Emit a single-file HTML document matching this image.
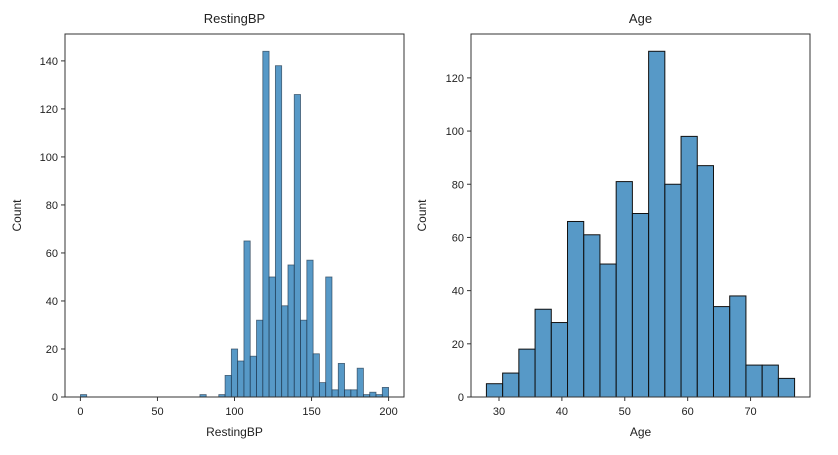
<!DOCTYPE html>
<html><head><meta charset="utf-8"><style>
body{margin:0;background:#fff;}
svg{display:block;font-family:"Liberation Sans","DejaVu Sans",sans-serif;}
</style></head><body>
<svg id="chart" width="838" height="455"></svg>
<script>
const bpCounts = [1,0,0,0,0,0,0,0,0,0,0,0,0,0,0,0,0,0,0,1,0,0,1,9,20,15,65,17,32,144,50,138,38,55,126,32,57,18,6,50,3,14,3,3,12,1,2,1,4];
const bpRange = [0,200];
const bpTicks = [0,50,100,150,200];
const bpYTicks = [0,20,40,60,80,100,120,140];
const ageCounts = [5,9,18,33,28,66,61,50,81,69,130,80,98,87,34,38,12,12,7];
const ageRange = [28,77];
const ageTicks = [30,40,50,60,70];
const ageYTicks = [0,20,40,60,80,100,120];

const NS="http://www.w3.org/2000/svg";
const svg=document.getElementById('chart');
function mk(tag,attrs,parent){const e=document.createElementNS(NS,tag);for(const k in attrs)e.setAttribute(k,attrs[k]);(parent||svg).appendChild(e);return e;}

function panel(cfg){
  const g=mk('g',{});
  
  
  const {x0,x1,y0,y1}=cfg.box;
  const bw=(cfg.range[1]-cfg.range[0])/cfg.counts.length;
  const xmin=cfg.range[0]-(cfg.range[1]-cfg.range[0])*0.05, xmax=cfg.range[1]+(cfg.range[1]-cfg.range[0])*0.05;
  const ymax=Math.max(...cfg.counts)*1.05;
  const sx=v=>x0+(v-xmin)/(xmax-xmin)*(x1-x0);
  const sy=v=>y1-v/ymax*(y1-y0);
  cfg.counts.forEach((c,i)=>{
    if(c<=0)return;
    const a=cfg.range[0]+i*bw;
    const r=mk('rect',{x:sx(a),y:sy(c),width:sx(a+bw)-sx(a),height:sy(0)-sy(c),fill:'rgba(31,119,180,0.75)',stroke:cfg.edge,'stroke-width':cfg.ew},g);
    
    
  });
  const f=mk('rect',{x:x0,y:y0,width:x1-x0,height:y1-y0,fill:'none',stroke:'#333','stroke-width':1},g);
  
  
  cfg.xticks.forEach(t=>{
    const x=sx(t);
    mk('line',{x1:x,x2:x,y1:y1,y2:y1+4,stroke:'#333'},g);
    const tx=mk('text',{x:x,y:y1+18,'text-anchor':'middle','font-size':11,fill:'#222'},g);
    tx.textContent=t;
    
    
  });
  cfg.yticks.forEach(t=>{
    const y=sy(t);
    mk('line',{x1:x0-4,x2:x0,y1:y,y2:y,stroke:'#333'},g);
    const tx=mk('text',{x:x0-7,y:y+4,'text-anchor':'end','font-size':11,fill:'#222'},g);
    tx.textContent=t;
    
    
  });
  const tt=mk('text',{x:(x0+x1)/2,y:y0-11,'text-anchor':'middle','font-size':13,fill:'#222'},g);
  tt.textContent=cfg.title;
  
  
  const xl=mk('text',{x:(x0+x1)/2,y:y1+39,'text-anchor':'middle','font-size':12,fill:'#222'},g);
  xl.textContent=cfg.title;
  
  
  const yl=mk('text',{x:0,y:0,'text-anchor':'middle','font-size':12,fill:'#222',transform:`translate(${cfg.ylx},${(y0+y1)/2}) rotate(-90)`},g);
  yl.textContent='Count';
  
  
}
panel({name:'restingbp-histogram',box:{x0:65,x1:404,y0:34,y1:397},counts:bpCounts,range:bpRange,xticks:bpTicks,yticks:bpYTicks,title:'RestingBP',ylx:21,edge:'rgba(30,50,70,0.7)',ew:0.8});
panel({name:'age-histogram',box:{x0:471,x1:810,y0:34,y1:397},counts:ageCounts,range:ageRange,xticks:ageTicks,yticks:ageYTicks,title:'Age',ylx:426,edge:'#111',ew:1});
</script>
</body></html>
